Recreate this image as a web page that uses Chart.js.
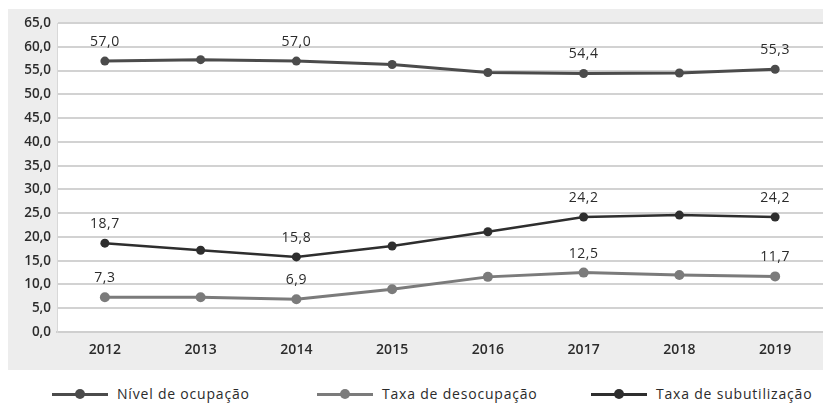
<!DOCTYPE html>
<html lang="pt-BR">
<head>
<meta charset="utf-8">
<script src="https://cdn.jsdelivr.net/npm/chart.js@4.4.1/dist/chart.umd.min.js"></script>
<style>
    body { margin: 0; background: #fff; width: 823px; height: 405px; position: relative; overflow: hidden; font-family: "Open Sans", sans-serif; }
    #painel { position: absolute; left: 8px; top: 9px; width: 820px; height: 361px; background: #ededed; }
    #legenda { position: absolute; left: 0; top: 384px; width: 823px; height: 20px; font-size: 14px; letter-spacing: 0.8px; color: #2b2b2b; }
    .item { position: absolute; top: 0; height: 20px; line-height: 20px; }
    .item .traco { position: absolute; top: 9px; width: 56px; height: 3px; }
    .item .bola { position: absolute; top: 5px; left: 23px; width: 10px; height: 10px; border-radius: 50%; }
    .item span { position: absolute; left: 65px; white-space: nowrap; }
</style>
</head>
<body>
<div id="painel"><canvas id="grafico" width="820" height="361"></canvas></div>
<div id="legenda"></div>
<script>
const anos = ["2012", "2013", "2014", "2015", "2016", "2017", "2018", "2019"];
const ocupacao = [57.0, 57.3, 57.0, 56.3, 54.6, 54.4, 54.5, 55.3];
const desocupacao = [7.3, 7.3, 6.9, 9.0, 11.6, 12.5, 12.0, 11.7];
const subutilizacao = [18.7, 17.2, 15.8, 18.1, 21.1, 24.2, 24.6, 24.2];
const anosRotulados = [0, 2, 5, 7]; // anos com valor escrito sobre o ponto
const ticksY = [0, 5, 10, 15, 20, 25, 30, 35, 40, 45, 50, 55, 60, 65];

const series = [
    { label: "Nível de ocupação", data: ocupacao, cor: "#4b4b4b", largura: 3, raio: 4.5 },
    { label: "Taxa de desocupação", data: desocupacao, cor: "#7b7b7b", largura: 3, raio: 5 },
    { label: "Taxa de subutilização", data: subutilizacao, cor: "#2e2e2e", largura: 2.5, raio: 4.5 }
];

const virgula = v => v.toFixed(1).replace(".", ",");

// fundo branco só dentro da área de plotagem
const fundoArea = {
    id: "fundoArea",
    beforeDraw(chart) {
        const { ctx, chartArea: a } = chart;
        ctx.save();
        ctx.fillStyle = "#ffffff";
        ctx.fillRect(a.left, a.top, a.right - a.left, a.bottom - a.top);
        ctx.restore();
    }
};

// valores acima dos pontos
const rotulos = {
    id: "rotulos",
    afterDatasetsDraw(chart) {
        const ctx = chart.ctx;
        ctx.save();
        ctx.font = "14px 'Open Sans'";
        ctx.letterSpacing = "0.5px";
        ctx.fillStyle = "#2b2b2b";
        ctx.textAlign = "center";
        ctx.textBaseline = "middle";
        chart.data.datasets.forEach((ds, i) => {
            const meta = chart.getDatasetMeta(i);
            anosRotulados.forEach(j => {
                const p = meta.data[j];
                ctx.fillText(virgula(ds.data[j]), p.x, p.y - 19);
            });
        });
        ctx.restore();
    }
};

new Chart(document.getElementById("grafico"), {
    type: "line",
    data: {
        labels: anos,
        datasets: series.map(s => ({
            label: s.label,
            data: s.data,
            borderColor: s.cor,
            backgroundColor: s.cor,
            borderWidth: s.largura,
            pointRadius: s.raio,
            pointBackgroundColor: s.cor,
            pointBorderWidth: 0,
            tension: 0,
            fill: false
        }))
    },
    options: {
        responsive: false,
        animation: false,
        layout: { padding: { top: 13, right: 0, left: 0, bottom: 0 } },
        plugins: {
            legend: { display: false },
            tooltip: { enabled: false }
        },
        scales: {
            x: {
                offset: true,
                grid: { display: false, drawTicks: false },
                border: { color: "#cfcfcf", width: 2 },
                ticks: { color: "#2b2b2b", padding: 10, font: { family: "Open Sans", size: 14, weight: "600" } },
                afterFit(scale) { scale.height = 38; }
            },
            y: {
                min: 0,
                max: 65,
                afterBuildTicks(scale) { scale.ticks = ticksY.map(v => ({ value: v })); },
                grid: { color: "#d2d2d2", lineWidth: 2, drawTicks: false },
                border: { color: "#d8d8d8", width: 1 },
                ticks: {
                    color: "#2b2b2b",
                    padding: 6,
                    font: { family: "Open Sans", size: 13.5, weight: "600" },
                    callback: v => virgula(v)
                },
                afterFit(scale) { scale.width = 49; }
            }
        }
    },
    plugins: [fundoArea, rotulos]
});

// legenda embaixo do painel
const posLegenda = [52, 317, 591];
const legenda = document.getElementById("legenda");
series.forEach((s, i) => {
    const item = document.createElement("div");
    item.className = "item";
    item.style.left = posLegenda[i] + "px";
    item.innerHTML = '<div class="traco" style="background:' + s.cor + '"></div>' +
        '<div class="bola" style="background:' + s.cor + '"></div><span>' + s.label + '</span>';
    legenda.appendChild(item);
});
</script>
</body>
</html>
